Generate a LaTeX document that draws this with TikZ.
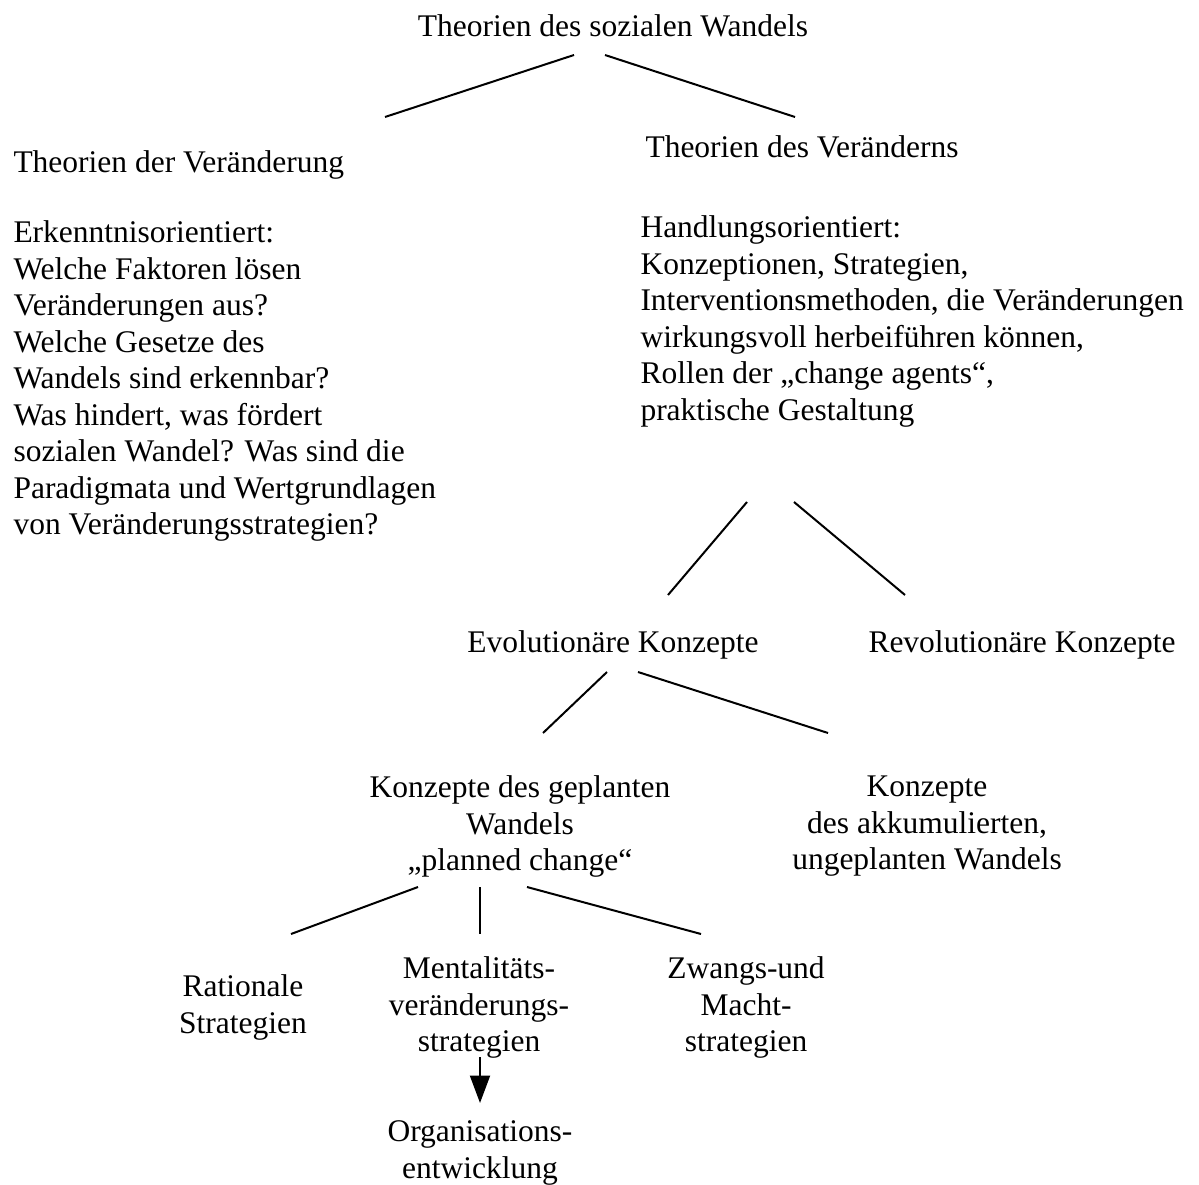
\documentclass[tikz,border=0pt]{standalone}
\usepackage{fontspec}
\setmainfont{Liberation Serif}
\usetikzlibrary{arrows.meta}
\begin{document}
\begin{tikzpicture}[x=0.4pt,y=-0.4pt,
  txt/.style={inner sep=0pt, font=\fontsize{12.6}{14.6}\selectfont},
  conn/.style={line width=0.8pt},
  arr/.style={line width=0.8pt,-{Triangle[width=8pt,length=11pt]}}]
\useasboundingbox (0,0) rectangle (1199,1185);
% texts
\node[txt,anchor=base] (root) at (613,37) {Theorien des sozialen Wandels};
\node[txt,anchor=base west] (tv) at (13,173) {Theorien der Veränderung};
\node[txt,anchor=north west,align=left] (tvtext) at (13,220.5) {Erkenntnisorientiert:\\Welche Faktoren lösen\\Veränderungen aus?\\Welche Gesetze des\\Wandels sind erkennbar?\\Was hindert, was fördert\\sozialen Wandel? Was sind die\\Paradigmata und Wertgrundlagen\\von Veränderungsstrategien?};
\node[txt,anchor=base west] (tvn) at (645,158) {Theorien des Veränderns};
\node[txt,anchor=north west,align=left] (tvntext) at (640,215.5) {Handlungsorientiert:\\Konzeptionen, Strategien,\\Interventionsmethoden, die Veränderungen\\wirkungsvoll herbeiführen können,\\Rollen der „change agents“,\\praktische Gestaltung};
\node[txt,anchor=base] (evo) at (613,652) {Evolutionäre Konzepte};
\node[txt,anchor=base] (revo) at (1022,652) {Revolutionäre Konzepte};
\node[txt,anchor=north,align=center] (gepl) at (520,775.5) {Konzepte des geplanten\\Wandels\\„planned change“};
\node[txt,anchor=north,align=center] (akku) at (927,775.5) {Konzepte\\des akkumulierten,\\ungeplanten Wandels};
\node[txt,anchor=north,align=center] (rat) at (243,974.5) {Rationale\\Strategien};
\node[txt,anchor=north,align=center] (ment) at (479,956.5) {Mentalitäts-\\veränderungs-\\strategien};
\node[txt,anchor=north,align=center] (zw) at (746,956.5) {Zwangs-und\\Macht-\\strategien};
\node[txt,anchor=north,align=center] (org) at (480,1120.5) {Organisations-\\entwicklung};
% connector end points
\coordinate (r1) at (574,55);  \coordinate (r1e) at (385,117);
\coordinate (r2) at (605,55);  \coordinate (r2e) at (795,117);
\coordinate (v1) at (747,502); \coordinate (v1e) at (668,595);
\coordinate (v2) at (794,502); \coordinate (v2e) at (905,595);
\coordinate (e1) at (607,672); \coordinate (e1e) at (543,733);
\coordinate (e2) at (638,672); \coordinate (e2e) at (828,733);
\coordinate (g1) at (418,887); \coordinate (g1e) at (291,934);
\coordinate (g2) at (480,887); \coordinate (g2e) at (480,934);
\coordinate (g3) at (527,887); \coordinate (g3e) at (701,934);
\coordinate (a1) at (480,1057); \coordinate (a1e) at (480,1103);
% connectors
\draw[conn] (r1) -- (r1e);
\draw[conn] (r2) -- (r2e);
\draw[conn] (v1) -- (v1e);
\draw[conn] (v2) -- (v2e);
\draw[conn] (e1) -- (e1e);
\draw[conn] (e2) -- (e2e);
\draw[conn] (g1) -- (g1e);
\draw[conn] (g2) -- (g2e);
\draw[conn] (g3) -- (g3e);
\draw[arr] (a1) -- (a1e);
\end{tikzpicture}
\end{document}
